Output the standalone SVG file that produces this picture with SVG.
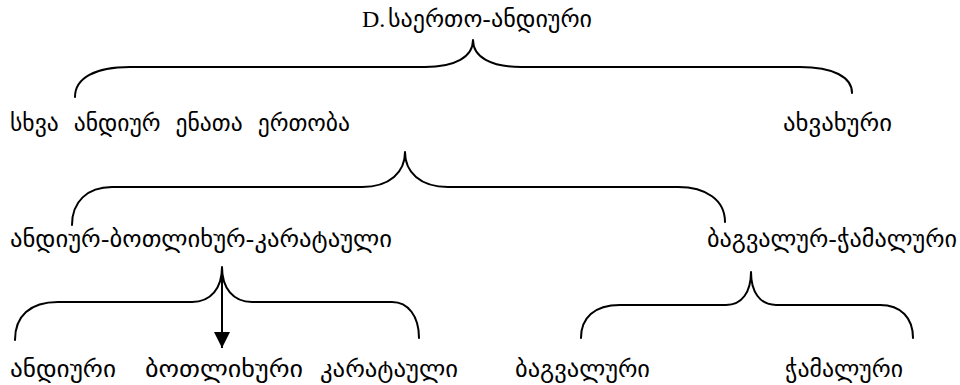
<svg xmlns="http://www.w3.org/2000/svg" width="960" height="385" viewBox="0 0 960 385">
  <style>
    .t { font-family: "DejaVu Sans", "Noto Sans", sans-serif; font-size: 23px; fill: #000; white-space: pre; }
    .lat { font-family: "Liberation Serif", serif; font-size: 24px; }
    .br { fill: none; stroke: #000; stroke-width: 2; stroke-linecap: round; stroke-linejoin: round; }
  </style>
  <defs>
    <marker id="arrow" markerUnits="userSpaceOnUse" markerWidth="16" markerHeight="16" refX="16" refY="8" orient="auto">
      <path d="M0,0 L16,8 L0,16 z" fill="#000"/>
    </marker>
  </defs>
  <rect width="960" height="385" fill="#fff"/>

  <g id="connectors">
    <path class="br" d="M 75 97 C 75 78 95 67 130 67 L 425 67 C 455 67 473 57 473 40 C 473 57 491 67 521 67 L 800 67 C 833 67 852 77 852 93"/>
    <path class="br" d="M 72 225 C 72 202 87 187 112 187 L 362 187 C 390 187 405 172 405 152 C 405 172 420 187 448 187 L 678 187 C 706 187 725 200 725 222"/>
    <path class="br" d="M 15 340 C 15 316 30 302 58 302 L 192 302 C 211 302 222 288 222 267 C 222 288 233 302 252 302 L 392 302 C 408 302 419 316 419 338"/>
    <path class="br" d="M 581 338 C 581 318 594 305 620 305 L 726 305 C 742 305 751 292 751 272 C 751 292 760 305 776 305 L 880 305 C 901 305 913 318 913 338"/>
    <line x1="222" y1="267" x2="222" y2="348" stroke="#000" stroke-width="2" marker-end="url(#arrow)"/>
  </g>

  <g id="node-root">
    <text class="t" y="27"><tspan class="lat" x="362">D.</tspan><tspan x="388" textLength="204" lengthAdjust="spacingAndGlyphs">საერთო-ანდიური</tspan></text>
  </g>
  <g id="node-other-andic">
    <text class="t" x="10" y="131" textLength="340" lengthAdjust="spacingAndGlyphs">სხვა  ანდიურ  ენათა  ერთობა</text>
  </g>
  <g id="node-akhvakh">
    <text class="t" x="783" y="131" textLength="109" lengthAdjust="spacingAndGlyphs">ახვახური</text>
  </g>
  <g id="node-abk">
    <text class="t" x="10" y="247" textLength="382" lengthAdjust="spacingAndGlyphs">ანდიურ-ბოთლიხურ-კარატაული</text>
  </g>
  <g id="node-bch">
    <text class="t" x="707" y="247" textLength="250" lengthAdjust="spacingAndGlyphs">ბაგვალურ-ჭამალური</text>
  </g>
  <g id="node-andi">
    <text class="t" x="10" y="377" textLength="106" lengthAdjust="spacingAndGlyphs">ანდიური</text>
  </g>
  <g id="node-botlikh">
    <text class="t" x="145" y="377" textLength="158" lengthAdjust="spacingAndGlyphs">ბოთლიხური</text>
  </g>
  <g id="node-karata">
    <text class="t" x="320" y="377" textLength="138" lengthAdjust="spacingAndGlyphs">კარატაული</text>
  </g>
  <g id="node-bagvalal">
    <text class="t" x="515" y="377" textLength="135" lengthAdjust="spacingAndGlyphs">ბაგვალური</text>
  </g>
  <g id="node-chamalal">
    <text class="t" x="785" y="377" textLength="118" lengthAdjust="spacingAndGlyphs">ჭამალური</text>
  </g>
</svg>
